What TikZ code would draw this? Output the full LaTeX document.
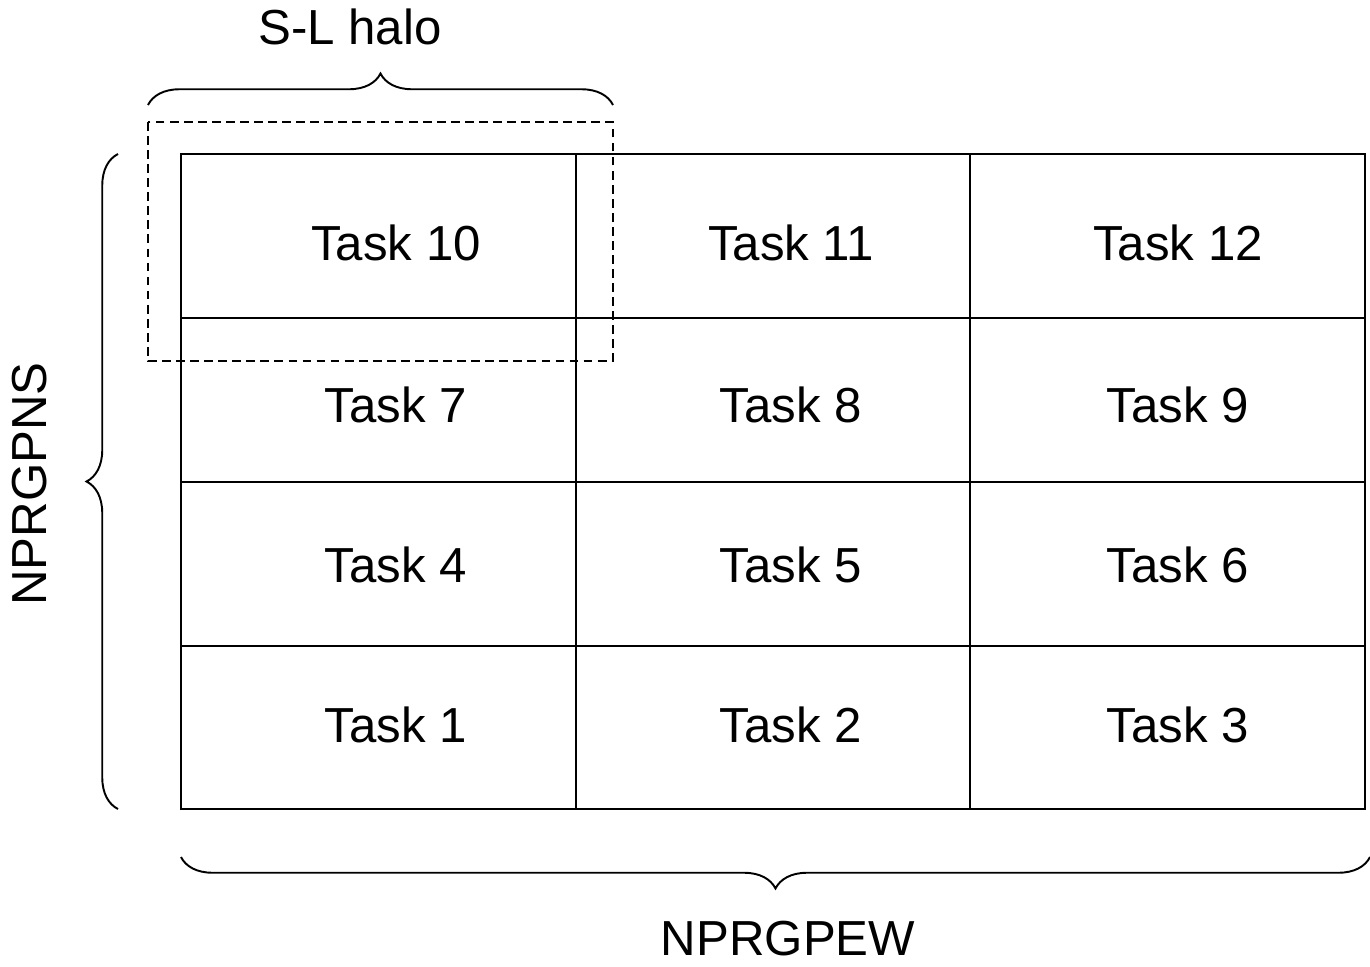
\documentclass[tikz,border=0pt]{standalone}
\usepackage{fontspec}
\setmainfont{Liberation Sans}
\usetikzlibrary{calc,positioning,decorations.pathreplacing}

\begin{document}
\begin{tikzpicture}
        [x=0.02cm,y=-0.02cm,line width=1.1pt,
         task/.style={font=\fontsize{28}{33}\selectfont},
         halo/.style={dash pattern=on 5pt off 3pt},
         bracket/.style={decorate,decoration={brace,amplitude=0.63cm}}]
        \useasboundingbox (0,0) rectangle (1370,967);
        % grid of tasks
        \draw (181,154) rectangle (1365,809);
        \foreach \x in {576,970} \draw (\x,154) -- (\x,809);
        \foreach \y in {318,482,646} \draw (181,\y) -- (1365,\y);
        \foreach \r/\y in {0/725,1/565,2/405,3/243}
          \foreach \c/\x in {1/396,2/791,3/1178} {
            \pgfmathtruncatemacro{\n}{3*\r+\c}
            \node[task] (t\n) at (\x,\y) {Task \n};
          }
        % halo round task 10
        \draw[halo] (148,122) rectangle (613,361);
        \draw[bracket] (148,105) -- (613,105);
        \node[task] (halo) at (350,27) {S-L halo};
        % sizes
        \draw[bracket] (118,809) -- (118,154);
        \node[task,rotate=90] (ns) at (30,484) {NPRGPNS};
        \draw[bracket] (1370,857) -- (181,857);
        \node[task,inner sep=0pt] (ew) at (788,939) {NPRGPEW};
      \end{tikzpicture}
\end{document}
